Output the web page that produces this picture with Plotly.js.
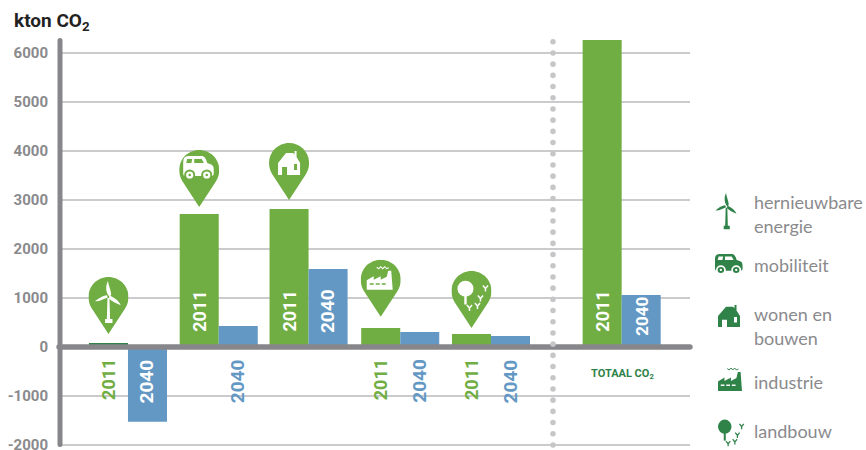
<!DOCTYPE html>
<html>
<head>
<meta charset="utf-8">
<script src="https://cdn.plot.ly/plotly-3.0.1.min.js"></script>
<style>
html,body{margin:0;padding:0;background:#fff}
.shapelayer path{stroke-linecap:round}
</style>
</head>
<body>
<div id="chart" style="width:866px;height:450px"></div>
<script>
// Data
const groupPositions = [0, 1, 1.99, 3, 4, 5.44];
const values2011 = [80, 2714, 2816, 388, 265, 6265];
const values2040 = [-1524, 429, 1592, 306, 224, 1061];
const label2011Inside = [false, true, true, false, false, true];
const label2040Inside = [false, false, true, false, false, true];
const label2040White = [true, false, true, false, false, true];
const barColors2011 = ['#2f8248', '#70ad43', '#70ad43', '#70ad43', '#70ad43', '#70ad43'];
const yTicks = [-2000, -1000, 0, 1000, 2000, 3000, 4000, 5000, 6000];
const pinTips = [265, 2857, 3000, 618, 388];
const legendLabels = ['hernieuwbare', 'energie', 'mobiliteit', 'wonen en', 'bouwen', 'industrie', 'landbouw'];
const legendLabelY = [202, 226, 265, 314, 338, 382, 431];

const GREEN = '#70ad43', BLUE = '#6498c4', DARK = '#2f8248', AXIS = '#87878b', GRID = '#cbcbcd', TEXT = '#8a8a8d';
const W = 866, H = 450, ML = 60, MR = 176, MT = 38, MB = 3;
const px = v => (v - ML) / (W - ML - MR);
const py = v => (H - MB - v) / (H - MT - MB);
const BW = 0.43, labelFont = 'Roboto, sans-serif';

// Icon artwork, in the 40x57 pin coordinate system
const glyphs = {
  wind: (f, b) => `<path fill="${f}" d="M19 21 L21 21 L21.6 42 L24 42 L24 46 L16.6 46 L16.6 42 L18.4 42 Z"/>
    <path fill="${f}" d="M20.8 19.5 C17 15 17 9 19.4 4 C20.2 9 22.4 13 22.7 17 C22.7 18.5 21.8 19.4 20.8 19.5 Z"/>
    <path fill="${f}" d="M19 20.8 C14.5 22.3 10 25 6.5 24.2 C10 21.3 14 18.9 18 18.2 C19 18.4 19.3 19.8 19 20.8 Z"/>
    <path fill="${f}" d="M21.6 18.8 C26 20.6 30.4 24 32.2 28.2 C27.8 26.4 23 24.4 20.8 21.8 C20.4 20.6 20.8 19.3 21.6 18.8 Z"/>`,
  car: (f, b) => `<path fill="${f}" d="M4 12 Q4 6 9 6 L23 6 Q26 6 28 13 L32 14.5 Q34.5 15.5 34.5 19 L34.5 24 Q34.5 26 32 26 L6 26 Q4 26 4 24 Z"/>
    <path fill="${b}" d="M8 9 L13 9 L12.2 13 L7 13 Z M15 9 L22.5 9 L24.6 13 L15 13 Z"/>
    <circle cx="10.5" cy="25" r="5.5" fill="${b}"/><circle cx="10.5" cy="25" r="3.6" fill="${f}"/>
    <circle cx="27.5" cy="25" r="5.5" fill="${b}"/><circle cx="27.5" cy="25" r="3.6" fill="${f}"/>
    <circle cx="10.5" cy="25" r="1.3" fill="${b}"/><circle cx="27.5" cy="25" r="1.3" fill="${b}"/>`,
  house: (f, b) => `<path fill="${f}" fill-rule="evenodd" d="M9 20 L17 10 L24 10 L25.5 11.5 L25.5 8 L27.5 8 L27.5 14 L31 20 L31 32 L18 32 L18 24 L13 24 L13 32 L9 32 Z M25 21 L28 21 L28 27 L25 27 Z"/>`,
  factory: (f, b) => `<path fill="${f}" d="M6 30 L6 20.5 L13 16.5 L13 20 L20 16.5 L20 20 L26 17 L27.5 11 L30.5 11 L32 30 Z"/>
    <path fill="${b}" d="M9 23.5 H13 V25 H9 Z M15 23.5 H19 V25 H15 Z M21 23.5 H25 V25 H21 Z"/>
    <path fill="none" stroke="${f}" stroke-width="1" d="M16 7.5 L18 9 L20 7 L22 9 L24 7 L26 9 L28 8"/>`,
  tree: (f, b) => {
    const y = (x, t) => `<path fill="none" stroke="${f}" stroke-width="1.5" d="M${x} ${t + 6} V${t + 3} L${x - 2.6} ${t} M${x} ${t + 3} L${x + 2.6} ${t}"/>`;
    return `<circle cx="14" cy="17.7" r="8" fill="${f}"/><rect x="12.8" y="24" width="2.4" height="9.5" fill="${f}"/>` +
      y(34, 14.5) + y(29, 24.5) + y(26, 32) + y(18, 34);
  }
};
const pinPath = 'M20 0C8.95 0 0 8.95 0 20c0 4 1 7.5 3.2 11.2L20 57L36.8 31.2C39 27.5 40 24 40 20C40 8.95 31.05 0 20 0Z';
const uri = s => 'data:image/svg+xml;charset=utf-8,' + encodeURIComponent(s);
const pinSvg = k => uri(`<svg xmlns="http://www.w3.org/2000/svg" width="160" height="228" viewBox="0 0 40 57"><path fill="${GREEN}" d="${pinPath}"/>${glyphs[k]('#fff', GREEN)}</svg>`);
const iconSvg = (k, vb) => uri(`<svg xmlns="http://www.w3.org/2000/svg" width="${vb[2] * 4}" height="${vb[3] * 4}" viewBox="${vb.join(' ')}">${glyphs[k](DARK, '#fff')}</svg>`);

const pinKeys = ['wind', 'car', 'house', 'factory', 'tree'];
const legendIcons = [
  {k: 'wind', vb: [6, 4, 28, 43], x: 715, y: 193, w: 23, h: 37},
  {k: 'car', vb: [4, 6, 31, 25], x: 715, y: 254, w: 28, h: 21},
  {k: 'house', vb: [9, 8, 22, 24], x: 718, y: 305, w: 22, h: 22},
  {k: 'factory', vb: [6, 7, 26, 23], x: 718, y: 368, w: 24, h: 23},
  {k: 'tree', vb: [6, 9, 32, 34], x: 718, y: 419, w: 27, h: 30}
];

const images = pinKeys.map((k, i) => ({
  source: pinSvg(k), xref: 'x', yref: 'y', x: groupPositions[i] - BW / 2, y: pinTips[i],
  sizex: 0.441, sizey: 1163, xanchor: 'center', yanchor: 'bottom', sizing: 'stretch', layer: 'above'
})).concat(legendIcons.map(o => ({
  source: iconSvg(o.k, o.vb), xref: 'paper', yref: 'paper', x: px(o.x), y: py(o.y),
  sizex: o.w / (W - ML - MR), sizey: o.h / (H - MT - MB), xanchor: 'left', yanchor: 'top', sizing: 'stretch', layer: 'above'
})));

const yearLabel = (text, x, inside, color, size, yBase) => ({
  text: '<b>' + text + '</b>', x, y: inside ? yBase : -204, xref: 'x', yref: 'y',
  yanchor: inside ? 'bottom' : 'top', xanchor: 'center', textangle: -90, showarrow: false,
  font: {family: labelFont, size, color}
});
const annotations = [];
groupPositions.forEach((g, i) => {
  annotations.push(yearLabel('2011', g - BW / 2, label2011Inside[i], label2011Inside[i] ? '#fff' : GREEN, 18, 265));
  const last = i === groupPositions.length - 1;
  annotations.push(yearLabel('2040', g + BW / 2, label2040Inside[i], label2040White[i] ? '#fff' : BLUE, last ? 17 : 19, last ? 180 : 245));
});
annotations.push({
  text: '<b>TOTAAL CO<sub>2</sub></b>', xref: 'paper', yref: 'paper', x: px(622), y: py(374),
  xanchor: 'center', yanchor: 'middle', showarrow: false,
  font: {family: 'Roboto, sans-serif', size: 11, color: DARK}
});
legendLabels.forEach((t, i) => annotations.push({
  text: t, xref: 'paper', yref: 'paper', x: px(752), y: py(legendLabelY[i]),
  xanchor: 'left', yanchor: 'middle', showarrow: false,
  font: {family: 'Lato, sans-serif', size: 18, color: TEXT}
}));

const shapes = [
  {type: 'line', xref: 'paper', yref: 'y', x0: px(59), x1: 1, y0: 0, y1: 0, layer: 'above', line: {color: AXIS, width: 5.4}},
  {type: 'line', xref: 'paper', yref: 'paper', x0: 0, x1: 0, y0: py(444.5), y1: py(40.5), layer: 'above', line: {color: AXIS, width: 5}},
  {type: 'line', xref: 'paper', yref: 'paper', x0: px(553), x1: px(553), y0: py(445), y1: py(40), layer: 'above', line: {color: '#c6c6c8', width: 5.5, dash: '0.1px,11.1px'}}
];

const traces = [
  {type: 'bar', name: '2011', x: groupPositions, y: values2011, width: BW, offset: -BW, marker: {color: barColors2011}, hoverinfo: 'y'},
  {type: 'bar', name: '2040', x: groupPositions, y: values2040, width: BW, offset: 0, marker: {color: BLUE}, hoverinfo: 'y'}
];

const layout = {
  width: W, height: H, showlegend: false, paper_bgcolor: '#fff', plot_bgcolor: '#fff',
  margin: {l: ML, r: MR, t: MT, b: MB, pad: 0},
  barmode: 'overlay',
  title: {
    text: '<b>kton CO<sub>2</sub></b>', x: 14 / W, xanchor: 'left', xref: 'container',
    y: 1 - 20 / H, yanchor: 'middle', yref: 'container',
    font: {family: 'Roboto, sans-serif', size: 19, color: '#222'}
  },
  xaxis: {range: [-0.749, 6.193], visible: false, fixedrange: true},
  yaxis: {
    range: [-2041, 6306], tickmode: 'array', tickvals: yTicks, ticktext: yTicks.map(String),
    ticks: '', ticklabelstandoff: 11, ticklabeloverflow: 'allow', showgrid: true, gridcolor: GRID, gridwidth: 1.5,
    zeroline: false, showline: false, fixedrange: true,
    tickfont: {family: 'Roboto, sans-serif', size: 15, color: TEXT, weight: 700}
  },
  shapes, images, annotations
};
Plotly.newPlot('chart', traces, layout, {displayModeBar: false, staticPlot: true});
</script>
</body>
</html>
